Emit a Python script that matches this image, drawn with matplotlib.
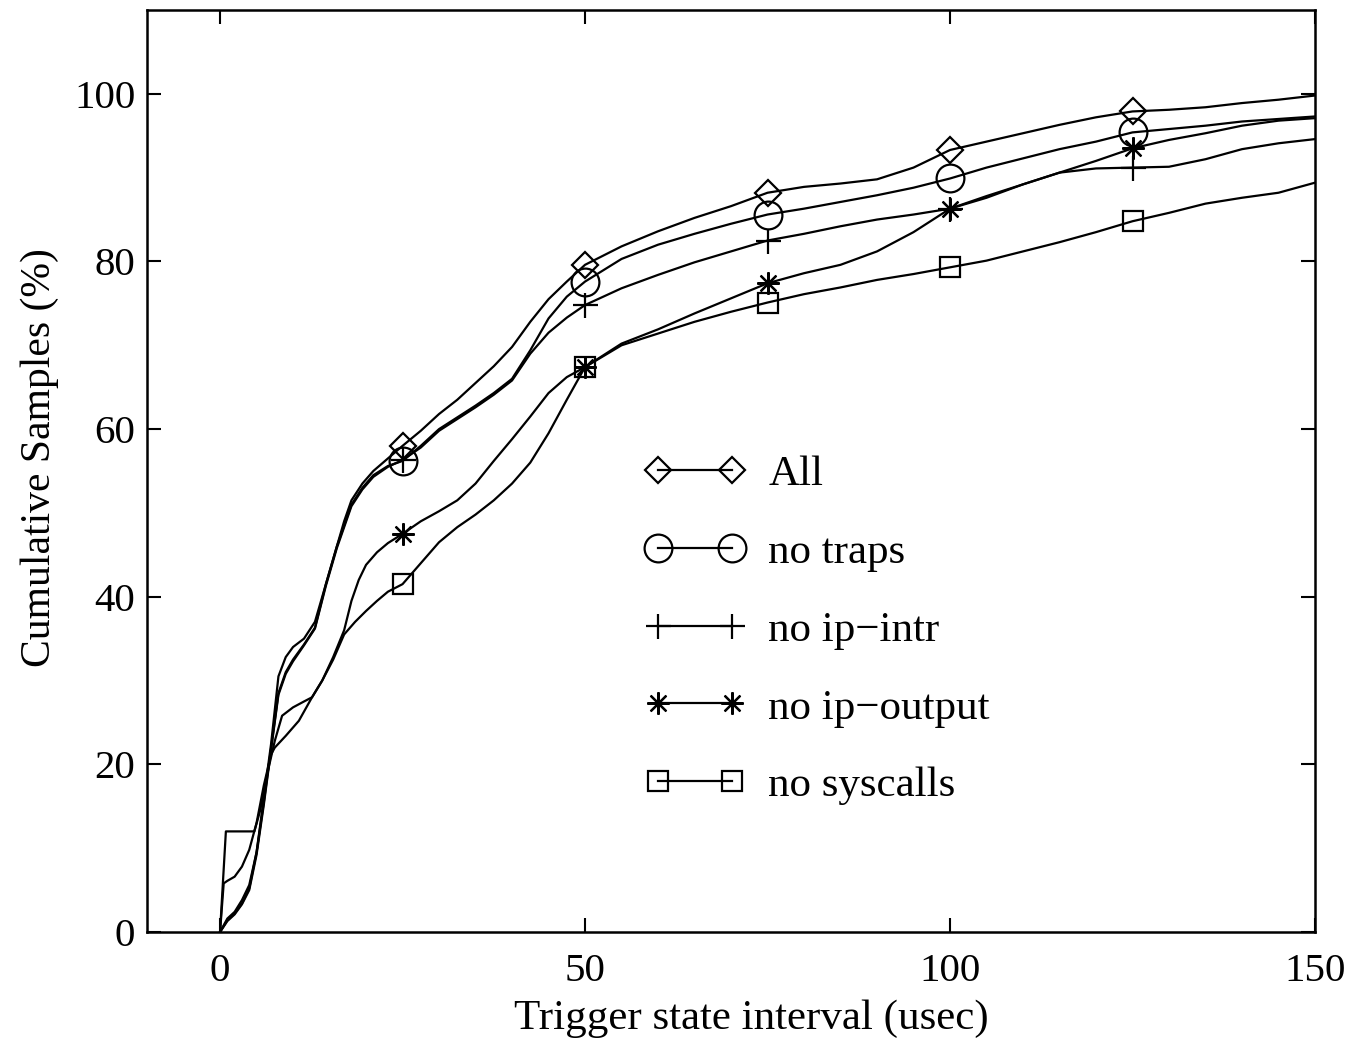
import matplotlib
matplotlib.use("Agg")
import matplotlib.pyplot as plt
from matplotlib.legend_handler import HandlerLine2D

plt.rcParams['font.family'] = ['Liberation Serif', 'DejaVu Serif']

# ---- data ----
x_all = [0, 1, 2, 3, 4, 5, 6, 7, 8, 9, 10, 11.5, 13, 14.5, 16, 17, 18, 19.5, 21, 23, 25,
         27.5, 30, 32.5, 35, 37.5, 40, 42.5, 45, 47.5, 50, 55, 60, 65, 70, 75, 80, 85, 90,
         95, 100, 105, 110, 115, 120, 125, 130, 135, 140, 145, 150]
y_all = [0, 1.6, 2.4, 3.8, 5.6, 9.5, 16, 22.5, 30.5, 32.8, 34, 35, 37, 41.5, 46, 49, 51.5, 53.5,
         55, 56.5, 58, 59.8, 61.8, 63.5, 65.5, 67.5, 69.8, 72.8, 75.5, 77.6, 79.6, 81.8, 83.6,
         85.2, 86.6, 88.2, 88.9, 89.3, 89.8, 91.2, 93.3, 94.3, 95.3, 96.3, 97.2, 97.9, 98.1,
         98.4, 98.9, 99.3, 99.8]

x_traps = x_all
y_traps = [0, 1.4, 2.2, 3.4, 5.2, 9.5, 15.5, 22, 28.5, 31, 32.5, 34.3, 36.3, 41.5, 46, 48.5,
           51, 53, 54.5, 55.6, 56.2, 58, 60, 61.4, 62.8, 64.3, 66, 69.4, 73.2, 75.8, 77.6, 80.3,
           82, 83.3, 84.5, 85.6, 86.3, 87.1, 87.9, 88.8, 89.9, 91.2, 92.3, 93.4, 94.3, 95.4,
           95.8, 96.2, 96.7, 97, 97.3]

x_intr = x_all
y_intr = [0, 1.3, 2.1, 3.3, 5.0, 9.2, 15.2, 21.8, 28.3, 30.8, 32.3, 34.2, 36.2, 41.3, 45.8,
          48.3, 50.8, 52.8, 54.3, 55.5, 56.3, 57.8, 59.8, 61.2, 62.6, 64.1, 65.8, 69, 71.5, 73.3,
          74.8, 76.8, 78.4, 79.9, 81.2, 82.5, 83.3, 84.2, 85, 85.6, 86.3, 87.6, 89.2, 90.6,
          91.1, 91.2, 91.3, 92.2, 93.4, 94.1, 94.6]

x_output = [0, 0.5, 1, 2, 3, 4, 5, 6, 7, 7.5, 9, 10.8, 12.6, 14, 15.5, 17, 18, 19, 20, 21.5,
            23, 25, 27.5, 30, 32.5, 35, 37.5, 40, 42.5, 45, 47.5, 50, 55, 60, 65, 70, 75, 80,
            85, 90, 95, 100, 105, 110, 115, 120, 125, 130, 135, 140, 145, 150]
y_output = [0, 5.8, 6.1, 6.6, 7.8, 9.8, 13, 17.5, 21.2, 22, 23.4, 25.2, 28, 30, 32.8, 36,
            39.5, 42, 43.8, 45.3, 46.4, 47.5, 49, 50.2, 51.5, 53.5, 56.2, 58.8, 61.5, 64.3,
            66.2, 67.4, 70.2, 71.9, 73.8, 75.6, 77.4, 78.6, 79.6, 81.2, 83.5, 86.3, 87.8, 89.2,
            90.6, 92, 93.5, 94.5, 95.3, 96.2, 96.8, 97.1]

x_sys = [0, 0.8, 4.7, 5.5, 6.5, 7.5, 8.5, 10, 11.5, 12.6, 14, 15.5, 17, 18.5, 20, 21.5, 23,
         25, 27.5, 30, 32.5, 35, 37.5, 40, 42.5, 45, 47.5, 50, 55, 60, 65, 70, 75, 80, 85, 90,
         95, 100, 105, 110, 115, 120, 125, 130, 135, 140, 145, 150]
y_sys = [0, 12, 12, 14.5, 19, 22.8, 25.8, 26.8, 27.5, 28, 30, 32.5, 35.5, 37, 38.3, 39.5,
         40.6, 41.5, 44, 46.5, 48.3, 49.8, 51.5, 53.5, 56, 59.5, 63.5, 67.4, 70, 71.4, 72.8,
         74, 75.1, 76.1, 76.9, 77.8, 78.5, 79.3, 80.1, 81.2, 82.3, 83.5, 84.8, 85.8, 86.9,
         87.6, 88.2, 89.4]

marker_x = [25, 50, 75, 100, 125]
labels = ['All', 'no traps', 'no ip\u2212intr', 'no ip\u2212output', 'no syscalls']
x_ticks = [0, 50, 100, 150]
y_ticks = [0, 20, 40, 60, 80, 100]

series = [
    (x_all, y_all, 'D', 13.5),
    (x_traps, y_traps, 'o', 20),
    (x_intr, y_intr, '+', 18),
    (x_output, y_output, (8, 2, 0), 16),
    (x_sys, y_sys, 's', 15),
]

fig = plt.figure(figsize=(13.54, 10.44), dpi=100)
ax = fig.add_axes([0.1086, 0.1073, 0.8626, 0.8831])

for (xs, ys, mk, ms), lab in zip(series, labels):
    idx = [i for i, v in enumerate(xs) if v in marker_x]
    ax.plot(xs, ys, color='black', lw=1.6, marker=mk, markersize=ms,
            markerfacecolor='none', markeredgecolor='black', markeredgewidth=1.6,
            markevery=idx, label=lab)

ax.set_xlim(-10, 150)
ax.set_ylim(0, 110)
ax.set_xticks(x_ticks)
ax.set_yticks(y_ticks)
ax.tick_params(direction='in', length=10, width=1.5, top=True, right=True,
               labelsize=29.5)
ax.tick_params(axis='x', pad=15)
ax.tick_params(axis='y', pad=8.5)
for s in ax.spines.values():
    s.set_linewidth(1.8)

ax.set_xlabel('Trigger state interval (usec)', fontsize=31)
ax.set_ylabel('Cumulative Samples (%)', fontsize=30)
ax.xaxis.set_label_coords(0.517, -0.073)
ax.yaxis.set_label_coords(-0.075, 0.515)

leg = ax.legend(loc='upper left', bbox_to_anchor=(0.419, 0.541), frameon=False,
                numpoints=2, handlelength=1.72, handletextpad=0.84, labelspacing=0.9,
                borderpad=0, fontsize=31,
                handler_map={plt.Line2D: HandlerLine2D(marker_pad=0)})

fig.savefig('out.png', dpi=100)
